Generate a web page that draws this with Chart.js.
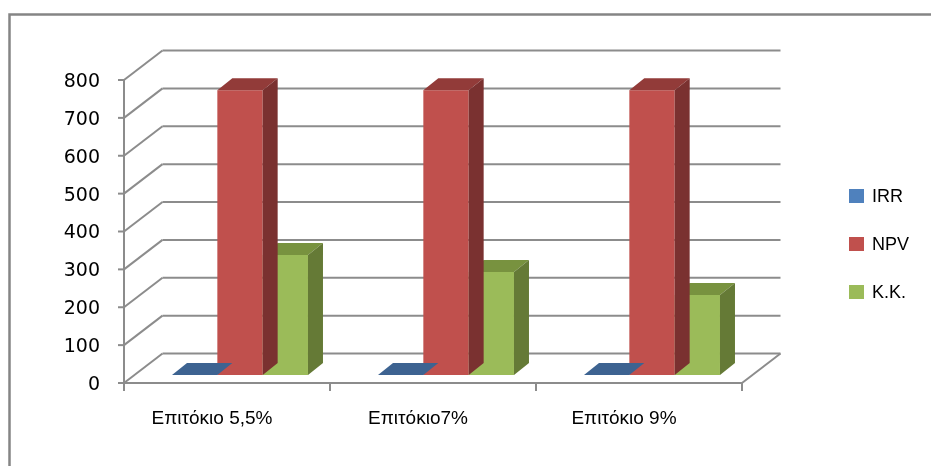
<!DOCTYPE html>
<html>
<head>
<meta charset="utf-8">
<script src="https://cdn.jsdelivr.net/npm/chart.js@4/dist/chart.umd.min.js"></script>
<style>
  html, body { margin: 0; padding: 0; background: #fff; }
  #wrap { width: 931px; height: 466px; }
</style>
</head>
<body>
<div id="wrap"><canvas id="npv-chart" width="931" height="466"></canvas></div>
<script>
// Rates compared and the three indicators per rate
const categories = ['Επιτόκιο 5,5%', 'Επιτόκιο7%', 'Επιτόκιο 9%'];
const irrValues = [0.3, 0.3, 0.3];
const npvValues = [752, 752, 752];
const kkValues = [317, 272, 211];
const yTicks = [0, 100, 200, 300, 400, 500, 600, 700, 800];

// 3D look: wall depth, bar depth and where the bars sit inside the box
const WALL = { dx: 38.5, dy: -29.5 };
const BAR_PLANE = { dx: 13, dy: -8 };
const BAR_DEPTH = { dx: 15, dy: -12 };
const LINE = '#8c8c8c';

const shades = [
    { top: '#3d6391', side: '#34557d' },
    { top: '#923b39', side: '#7a3130' },
    { top: '#78923f', side: '#657a36' }
];

function line(ctx, x1, y1, x2, y2) {
    ctx.beginPath();
    ctx.moveTo(x1, y1);
    ctx.lineTo(x2, y2);
    ctx.stroke();
}

const box3d = {
    id: 'box3d',
    beforeDraw(chart) {
        // outer frame
        const ctx = chart.ctx;
        ctx.save();
        ctx.strokeStyle = '#858585';
        ctx.lineWidth = 2.5;
        ctx.beginPath();
        ctx.moveTo(9.5, 470);
        ctx.lineTo(9.5, 14.5);
        ctx.lineTo(935, 14.5);
        ctx.stroke();
        ctx.restore();
    },
    beforeDatasetsDraw(chart) {
        const { ctx, chartArea: a, scales: { x, y } } = chart;
        ctx.save();
        ctx.strokeStyle = LINE;
        ctx.lineWidth = 2;
        ctx.lineCap = 'butt';

        // back wall grid + side wall diagonals
        yTicks.forEach(v => {
            const py = y.getPixelForValue(v);
            line(ctx, a.left + WALL.dx, py + WALL.dy, a.right + WALL.dx, py + WALL.dy);
            line(ctx, a.left, py, a.left + WALL.dx, py + WALL.dy);
            line(ctx, a.left - 6, py, a.left, py);
        });

        // front value axis
        line(ctx, a.left, a.top, a.left, a.bottom + 8);

        // floor front edge and right edge
        line(ctx, a.left, a.bottom, a.right, a.bottom);
        line(ctx, a.right, a.bottom, a.right + WALL.dx, a.bottom + WALL.dy);

        // category boundaries
        const half = (x.getPixelForValue(1) - x.getPixelForValue(0)) / 2;
        for (let i = 0; i <= categories.length; i++) {
            const px = x.getPixelForValue(i) - half;
            line(ctx, px, a.bottom, px, a.bottom + 8);
        }
        ctx.restore();
    },
    beforeDatasetDraw(chart) {
        chart.ctx.save();
        chart.ctx.translate(BAR_PLANE.dx, BAR_PLANE.dy);
    },
    afterDatasetDraw(chart, args) {
        const ctx = chart.ctx;
        const shade = shades[args.index];
        args.meta.data.forEach(el => {
            const { x, y, base, width } = el.getProps(['x', 'y', 'base', 'width'], true);
            const l = x - width / 2, r = x + width / 2;
            const dx = BAR_DEPTH.dx, dy = BAR_DEPTH.dy;

            ctx.fillStyle = shade.top;
            ctx.beginPath();
            ctx.moveTo(l, y);
            ctx.lineTo(l + dx, y + dy);
            ctx.lineTo(r + dx, y + dy);
            ctx.lineTo(r, y);
            ctx.closePath();
            ctx.fill();

            ctx.fillStyle = shade.side;
            ctx.beginPath();
            ctx.moveTo(r, y);
            ctx.lineTo(r + dx, y + dy);
            ctx.lineTo(r + dx, base + dy);
            ctx.lineTo(r, base);
            ctx.closePath();
            ctx.fill();
        });
        ctx.restore();
    },
    afterDraw(chart) {
        // legend on the right
        const ctx = chart.ctx;
        ctx.save();
        ctx.font = '18px "Liberation Sans", sans-serif';
        ctx.textBaseline = 'middle';
        ctx.fillStyle = '#000';
        chart.data.datasets.forEach((ds, i) => {
            const cy = 196 + i * 48;
            ctx.fillStyle = ds.backgroundColor;
            ctx.fillRect(849, cy - 7, 15, 14);
            ctx.fillStyle = '#000';
            ctx.fillText(ds.label, 872, cy + 1);
        });
        ctx.restore();
    }
};

new Chart(document.getElementById('npv-chart'), {
    type: 'bar',
    data: {
        labels: categories,
        datasets: [
            { label: 'IRR', data: irrValues, backgroundColor: '#4f81bd' },
            { label: 'NPV', data: npvValues, backgroundColor: '#c0504d' },
            { label: 'K.K.', data: kkValues, backgroundColor: '#9bbb59' }
        ]
    },
    options: {
        responsive: false,
        animation: false,
        devicePixelRatio: 1,
        layout: { padding: { left: 0, top: 80, right: 189, bottom: 0 } },
        datasets: {
            bar: { categoryPercentage: 0.66, barPercentage: 1, borderWidth: 0 }
        },
        plugins: {
            legend: { display: false },
            tooltip: { enabled: false }
        },
        scales: {
            x: {
                grid: { display: false, drawTicks: false },
                border: { display: false },
                ticks: {
                    color: '#000',
                    font: { family: '"Liberation Sans", sans-serif', size: 19 },
                    padding: 24,
                    labelOffset: -15,
                    maxRotation: 0,
                    autoSkip: false
                },
                afterFit(scale) { scale.height = 83; }
            },
            y: {
                min: 0,
                max: 800,
                grid: { display: false, drawTicks: false },
                border: { display: false },
                ticks: {
                    stepSize: 100,
                    color: '#000',
                    font: { family: '"DejaVu Sans", sans-serif', size: 19 },
                    padding: 24,
                    labelOffset: 2
                },
                afterFit(scale) { scale.width = 124; }
            }
        }
    },
    plugins: [box3d]
});
</script>
</body>
</html>
